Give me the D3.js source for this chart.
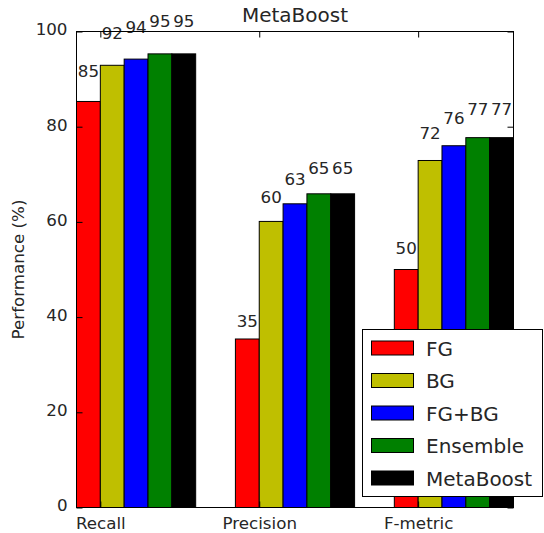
<!DOCTYPE html>
<html>
<head>
<meta charset="utf-8">
<script src="https://cdn.jsdelivr.net/npm/d3@7"></script>
<style>
  html, body { margin: 0; padding: 0; background: #fff; }
  svg text { font-family: "DejaVu Sans", sans-serif; fill: #262626; }
</style>
</head>
<body>
<svg id="chart" width="544" height="533"></svg>
<script>
// Groups along the x axis
const categories = ["Recall", "Precision", "F-metric"];

// One entry per method, in drawing order
const seriesNames = ["FG", "BG", "FG+BG", "Ensemble", "MetaBoost"];
const seriesColors = ["#ff0000", "#bfbf00", "#0000ff", "#008000", "#000000"];

// Performance (%) per method, ordered as the categories above
const fgValues        = [85.3, 35.4, 50.0];
const bgValues        = [92.9, 60.1, 72.9];
const fgbgValues      = [94.2, 63.8, 76.0];
const ensembleValues  = [95.3, 65.9, 77.7];
const metaBoostValues = [95.3, 65.9, 77.7];

const yTicks = [0, 20, 40, 60, 80, 100];

const seriesValues = [fgValues, bgValues, fgbgValues, ensembleValues, metaBoostValues];

const barWidth = 0.15;
const plotLeft = 76.5, plotRight = 513.5, plotTop = 31.5, plotBottom = 507.5;

const svg = d3.select("#chart");

const x = d3.scaleLinear().domain([0, 2.75]).range([plotLeft, plotRight]);
const y = d3.scaleLinear().domain([0, 100]).range([plotBottom, plotTop]);

// Bars
seriesValues.forEach((vals, si) => {
  svg.append("g").selectAll("rect")
    .data(vals)
    .join("rect")
    .attr("x", (d, ci) => x(ci + si * barWidth))
    .attr("width", (d, ci) => x(ci + (si + 1) * barWidth) - x(ci + si * barWidth))
    .attr("y", d => y(d))
    .attr("height", d => y(0) - y(d))
    .attr("fill", seriesColors[si])
    .attr("stroke", "#000")
    .attr("stroke-width", 1);
});

// Value labels above each bar, at 1.05 x height
seriesValues.forEach((vals, si) => {
  svg.append("g").selectAll("text")
    .data(vals)
    .join("text")
    .attr("x", (d, ci) => x(ci + (si + 0.5) * barWidth))
    .attr("y", d => y(d * 1.05) - 4)
    .attr("text-anchor", "middle")
    .attr("font-size", "16.7px")
    .text(d => String(Math.floor(d)));
});

// Axes frame
svg.append("rect")
  .attr("x", plotLeft).attr("y", plotTop)
  .attr("width", plotRight - plotLeft).attr("height", plotBottom - plotTop)
  .attr("fill", "none").attr("stroke", "#000").attr("stroke-width", 1);

// Y axis: ticks drawn inward on both sides
const yAxisLeft = d3.axisLeft(y).tickValues(yTicks).tickSize(-6).tickPadding(9).tickFormat(d3.format("d"));
const gy = svg.append("g").attr("transform", `translate(${plotLeft},0)`).call(yAxisLeft);
gy.select(".domain").remove();
gy.selectAll("text").attr("font-size", "16.7px").attr("font-family", "DejaVu Sans")
  .attr("fill", "#262626").attr("dy", "0.2em");

const yAxisRight = d3.axisRight(y).tickValues(yTicks).tickSize(-6).tickFormat("");
const gyr = svg.append("g").attr("transform", `translate(${plotRight},0)`).call(yAxisRight);
gyr.select(".domain").remove();

// X axis: category ticks at group start + one bar width
const tickPos = categories.map((c, i) => i + barWidth);
const xAxisBottom = d3.axisBottom(x).tickValues(tickPos).tickSize(-6).tickPadding(10)
  .tickFormat((d, i) => categories[i]);
const gx = svg.append("g").attr("transform", `translate(0,${plotBottom})`).call(xAxisBottom);
gx.select(".domain").remove();
gx.selectAll("text").attr("font-size", "16.7px").attr("font-family", "DejaVu Sans").attr("fill", "#262626");

const xAxisTop = d3.axisTop(x).tickValues(tickPos).tickSize(-6).tickFormat("");
const gxt = svg.append("g").attr("transform", `translate(0,${plotTop})`).call(xAxisTop);
gxt.select(".domain").remove();

// Title and y label
svg.append("text")
  .attr("x", (plotLeft + plotRight) / 2).attr("y", 22)
  .attr("text-anchor", "middle").attr("font-size", "20px")
  .text("MetaBoost");

svg.append("text")
  .attr("transform", `translate(24,${(plotTop + plotBottom) / 2}) rotate(-90)`)
  .attr("text-anchor", "middle").attr("font-size", "16.7px")
  .text("Performance (%)");

// Legend
const legend = svg.append("g");
legend.append("rect")
  .attr("x", 362.5).attr("y", 329.5).attr("width", 180).attr("height", 167)
  .attr("fill", "#fff").attr("stroke", "#000").attr("stroke-width", 1);

const rowY = d3.scaleLinear().domain([0, 4]).range([348, 478]);
seriesNames.forEach((name, i) => {
  legend.append("rect")
    .attr("x", 371.5).attr("y", rowY(i) - 7)
    .attr("width", 42).attr("height", 14)
    .attr("fill", seriesColors[i]).attr("stroke", "#000").attr("stroke-width", 1);
  legend.append("text")
    .attr("x", 426).attr("y", rowY(i) + 7.5)
    .attr("font-size", "20px")
    .text(name);
});
</script>
</body>
</html>
